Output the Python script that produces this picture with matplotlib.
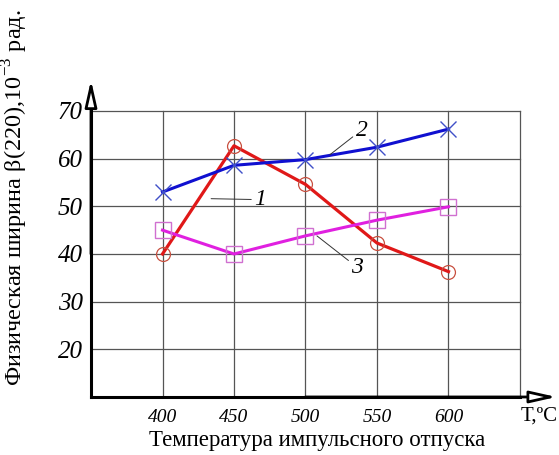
import matplotlib.pyplot as plt

plt.rcParams['font.family'] = ['Liberation Serif', 'DejaVu Serif']
plt.rcParams['mathtext.fontset'] = 'custom'
plt.rcParams['mathtext.rm'] = 'Liberation Serif'

temps = [400, 450, 500, 550, 600]
width_1 = [40.0, 62.7, 54.6, 42.3, 36.3]
width_2 = [53.0, 58.6, 59.8, 62.4, 66.2]
width_3 = [45.0, 40.0, 43.8, 47.1, 49.9]

xticks = [400, 450, 500, 550, 600]
yticks = [20, 30, 40, 50, 60, 70]

fig = plt.figure(figsize=(5.59, 4.55), dpi=100)
ax = fig.add_axes([0.1628, 0.1275, 0.7674, 0.6286])

ax.set_xlim(350, 650)
ax.set_ylim(10, 70)

# grid
for x in [400, 450, 500, 550, 600, 650]:
    ax.axvline(x, color='#555555', lw=0.9, zorder=0, clip_on=False)
for y in [20, 30, 40, 50, 60, 70]:
    ax.axhline(y, color='#555555', lw=0.9, zorder=0, clip_on=False)

ax.spines['top'].set_visible(False)
ax.spines['right'].set_visible(False)
ax.spines['left'].set_linewidth(2.2)
ax.spines['bottom'].set_linewidth(2.2)

ax.plot(temps, width_1, color='#e01818', lw=2.3, zorder=3)
ax.plot(temps, width_1, ls='none', marker='o', ms=10, mfc='none',
        mec='#c85040', mew=0.9, zorder=4)
ax.plot(temps, width_2, color='#1010d0', lw=2.2, zorder=3)
ax.plot(temps, width_2, ls='none', marker='x', ms=11, mec='#4050c8',
        mew=1.0, zorder=4)
ax.plot(temps, width_3, color='#e020e0', lw=2.2, zorder=3)
ax.plot(temps, width_3, ls='none', marker='s', ms=11, mfc='none',
        mec='#d070d0', mew=1.0, zorder=4)

# curve numbers with leader lines
leader = dict(arrowstyle='-', color='#333333', lw=0.7, shrinkA=0, shrinkB=0)
ax.annotate('1', xy=(434, 51.6), xytext=(464, 51.4), fontsize=17,
            style='italic', va='center', ha='left', arrowprops=leader)
ax.annotate('2', xy=(517, 60.8), xytext=(535, 66.0), fontsize=17,
            style='italic', va='center', ha='left', arrowprops=leader)
ax.annotate('3', xy=(508, 43.8), xytext=(532, 37.2), fontsize=17,
            style='italic', va='center', ha='left', arrowprops=leader)

ax.set_xticks(xticks)
ax.set_yticks(yticks)
ax.set_xticklabels([str(v) for v in xticks], fontsize=14, style='italic')
ax.set_yticklabels([str(v) for v in yticks], fontsize=18, style='italic')
ax.tick_params(length=0, pad=9)
ax.tick_params(axis='y', pad=6)

# axis arrows with open heads
head = dict(arrowstyle='-|>,head_length=1.6,head_width=0.36', fc='white',
            ec='black', lw=2.0, shrinkA=0, shrinkB=0, mutation_scale=10)
ax.annotate('', xy=(0, 1.108), xytext=(0, 0.5), xycoords='axes fraction',
            arrowprops=head)
ax.annotate('', xy=(1.085, 0), xytext=(0.5, 0), xycoords='axes fraction',
            arrowprops=head)

fig.text(0.998, 0.086, 'T,ºC', fontsize=15, ha='right', va='center')
fig.text(0.567, 0.032, 'Температура импульсного отпуска', fontsize=16.5,
         ha='center', va='center')
fig.text(0.027, 0.565, r'Физическая ширина β(220),10$^{-3}$ рад.', fontsize=17.5,
         rotation=90, ha='center', va='center')

fig.savefig('out.png', dpi=100)
